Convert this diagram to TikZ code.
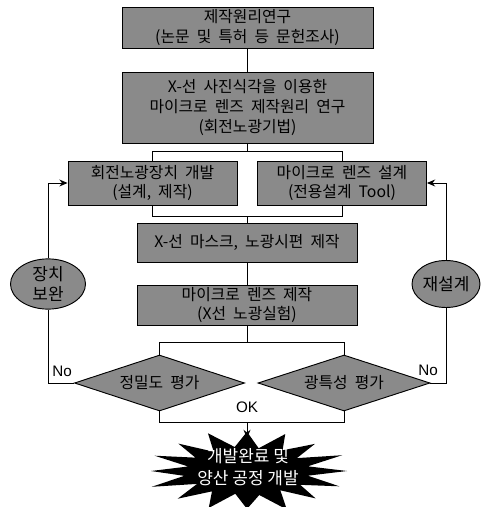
\documentclass[tikz,border=0pt]{standalone}
\usepackage{fontspec}
\setmainfont{Noto Sans CJK KR}[WordSpace=2]
\newfontfamily\burstfont{Noto Sans CJK KR}
\newfontfamily\latinlbl{Liberation Sans}
\usetikzlibrary{shapes.geometric,arrows.meta}
\definecolor{halftone}{RGB}{138,138,138}
\tikzset{
  base/.style={draw=black, line width=0.8pt, fill=halftone, inner sep=0pt, align=center,
    font=\fontsize{13.5}{17}\selectfont},
  pbox/.style={base, rectangle},
  decide/.style={base, diamond, aspect=3},
  fix/.style={base, ellipse, font=\fontsize{14.5}{17.5}\selectfont},
  conn/.style={line width=0.8pt},
  arr/.style={conn, -{Stealth[length=7pt,width=6pt]}},
  lbl/.style={font=\latinlbl\fontsize{13}{15}\selectfont, inner sep=0pt},
}
\begin{document}
\begin{tikzpicture}[x=0.03cm, y=-0.03cm]
\useasboundingbox (0,0) rectangle (481,507);
% process boxes
\node[pbox, minimum width=7.53cm, minimum height=1.23cm] (b1) at (247.5,27.5) {제작원리연구\\(논문 및 특허 등 문헌조사)};
\node[pbox, minimum width=7.53cm, minimum height=2.13cm] (b2) at (247.5,107.5) {X-선 사진식각을 이용한\\마이크로 렌즈 제작원리 연구\\(회전노광기법)};
\node[pbox, minimum width=5.07cm, minimum height=1.32cm] (b3l) at (152.5,183) {회전노광장치 개발\\(설계, 제작)};
\node[pbox, minimum width=5.07cm, minimum height=1.32cm] (b3r) at (342,183) {마이크로 렌즈 설계\\(전용설계 Tool)};
\node[pbox, minimum width=6.6cm, minimum height=1.17cm] (b4) at (247,242.5) {X-선 마스크, 노광시편 제작};
\node[pbox, minimum width=6.6cm, minimum height=1.2cm] (b5) at (247,305) {마이크로 렌즈 제작\\(X선 노광실험)};
% decisions
\node[decide, minimum width=5.1cm, minimum height=1.68cm] (dl) at (159.5,383) {정밀도 평가};
\node[decide, minimum width=5.16cm, minimum height=1.68cm] (dr) at (344,383) {광특성 평가};
% feedback ellipses
\node[fix, minimum width=2.25cm, minimum height=1.41cm] (el) at (48,284) {장치\\보완};
\node[fix, minimum width=2.04cm, minimum height=1.41cm] (er) at (446,284) {재설계};
% connectors
\draw[conn] (b1) -- (b2);
\draw[conn] (b2.south) -- ++(0,9);
\draw[conn] (b3l.north) -- ++(0,-9) -| (b3r.north);
\draw[conn] (b3l.south) -- ++(0,11) -| (b3r.south);
\draw[conn] (b4.north) -- ++(0,-7);
\draw[conn] (b4) -- (b5);
\draw[conn] (b5.south) -- ++(0,18);
\draw[conn] (dl.north) -- ++(0,-12) -| (dr.north);
\draw[conn] (dl.south) -- ++(0,11) -| (dr.south);
\draw[conn] (dl.west) -| (el.south);
\draw[arr] (el.north) |- (b3l.west);
\draw[conn] (dr.east) -| (er.south);
\draw[arr] (er.north) |- (b3r.east);
% labels
\node[lbl] (nol) at (62,371) {No};
\node[lbl] (nor) at (428,370) {No};
\node[lbl] (ok) at (247,407) {OK};
% final starburst
\fill[black] (247,471)
  ++(0:100 and 40)
  \foreach \k/\r in {1/0.62,2/1.0,3/0.64,4/0.97,5/0.6,6/1.04,7/0.63,8/0.95,9/0.6,10/1.0,11/0.63,12/0.98,13/0.6,14/1.03,15/0.64,16/0.96,17/0.6,18/1.0,19/0.62,20/0.97,21/0.6,22/1.02,23/0.63,24/0.98,25/0.6,26/1.0,27/0.64,28/0.96,29/0.6,30/1.03,31/0.62} {
    -- ({247+100*\r*cos(\k*11.25)}, {471+40*(\r*1.05-0.05)*sin(\k*11.25)})
  } -- cycle;
\node[text=white, align=center, inner sep=0pt, font=\burstfont\fontsize{14.5}{18.5}\selectfont] (done) at (248,467) {개발완료 및\\양산 공정 개발};
\coordinate (busB) at (247,422);
\coordinate (burstTop) at (247,438);
\draw[arr] (busB) -- (burstTop);
\end{tikzpicture}
\end{document}
